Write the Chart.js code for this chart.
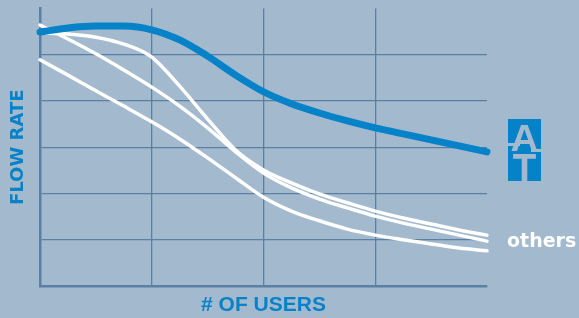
<!DOCTYPE html>
<html>
<head>
<meta charset="utf-8">
<script src="https://cdn.jsdelivr.net/npm/chart.js@4/dist/chart.umd.min.js"></script>
<style>
  html, body { margin: 0; padding: 0; background: #a3b9ce; }
  #wrap { width: 579px; height: 318px; position: relative; }
</style>
</head>
<body>
<div id="wrap"><canvas id="c" width="579" height="318"></canvas></div>
<script>
// ---- data ----
const userSteps = [0, 0.25, 0.5, 0.75, 1, 1.25, 1.5, 1.75, 2, 2.25, 2.5, 2.75, 3, 3.25, 3.5, 3.75, 4];
const atFlow     = [5.49, 5.58, 5.62, 5.62, 5.54, 5.32, 4.97, 4.56, 4.20, 3.94, 3.74, 3.57, 3.42, 3.29, 3.16, 3.03, 2.90];
const otherFlowA = [5.64, 5.34, 5.02, 4.67, 4.30, 3.89, 3.42, 2.90, 2.44, 2.12, 1.88, 1.69, 1.51, 1.36, 1.23, 1.10, 0.97];
const otherFlowB = [5.47, 5.45, 5.38, 5.23, 4.95, 4.32, 3.61, 2.94, 2.51, 2.23, 1.99, 1.80, 1.62, 1.47, 1.34, 1.21, 1.10];
const otherFlowC = [4.89, 4.56, 4.22, 3.89, 3.55, 3.18, 2.77, 2.34, 1.92, 1.62, 1.41, 1.23, 1.10, 1.00, 0.91, 0.82, 0.76];
const xTitle = '# OF USERS';
const yTitle = 'FLOW RATE';
const atLabel = ['A', 'T'];
const othersLabel = 'others';

const BG = '#a3b9ce';
const GRID = '#5a80a4';
const BLUE = '#0582c8';

const pts = (ys) => userSteps.map((x, i) => ({ x: x, y: ys[i] }));

const labelsPlugin = {
  id: 'sideLabels',
  afterDraw(chart) {
    const ctx = chart.ctx;
    ctx.save();
    // AT logo
    ctx.fillStyle = BLUE;
    ctx.fillRect(508, 119, 33, 62);
    ctx.fillStyle = BG;
    ctx.textAlign = 'center';
    ctx.textBaseline = 'alphabetic';
    ctx.save();
    ctx.translate(524.5, 151);
    ctx.scale(1.1, 1.05);
    ctx.font = 'bold 35px "Liberation Sans", Arial, sans-serif';
    ctx.fillText(atLabel[0], 0, 0);
    ctx.restore();
    ctx.save();
    ctx.translate(524.5, 183);
    ctx.scale(1.1, 1.2);
    ctx.font = 'bold 35px "Liberation Sans", Arial, sans-serif';
    ctx.fillText(atLabel[1], 0, 0);
    ctx.restore();
    ctx.fillRect(506, 143, 14, 3);
    ctx.fillRect(531, 149, 12, 3);
    // others
    ctx.fillStyle = '#ffffff';
    ctx.textAlign = 'left';
    ctx.textBaseline = 'middle';
    ctx.font = 'bold 19px "DejaVu Sans", sans-serif';
    ctx.fillText(othersLabel, 507, 242);
    ctx.restore();
  }
};

const lineDs = (data, color, width) => ({
  data: pts(data),
  borderColor: color,
  borderWidth: width,
  pointRadius: 0,
  pointHoverRadius: 0,
  fill: false,
  cubicInterpolationMode: 'monotone',
  borderCapStyle: 'round',
  borderJoinStyle: 'round',
  clip: false
});

new Chart(document.getElementById('c'), {
  type: 'line',
  data: {
    datasets: [
      lineDs(atFlow, BLUE, 7),
      lineDs(otherFlowA, '#ffffff', 3.5),
      lineDs(otherFlowB, '#ffffff', 3.5),
      lineDs(otherFlowC, '#ffffff', 3.5)
    ]
  },
  options: {
    responsive: false,
    animation: false,
    events: [],
    layout: { padding: { left: 0, right: 92, top: 8.5, bottom: 0 } },
    plugins: { legend: { display: false }, tooltip: { enabled: false } },
    scales: {
      x: {
        type: 'linear',
        min: 0, max: 4,
        ticks: { display: false, stepSize: 1 },
        grid: {
          drawTicks: false,
          lineWidth: 1.3,
          color: (c) => (c.tick && (c.tick.value === 4 || c.tick.value === 0)) ? 'rgba(0,0,0,0)' : GRID
        },
        border: { display: true, color: GRID, width: 2.5 },
        title: {
          display: true,
          text: xTitle,
          color: BLUE,
          font: { family: '"Liberation Sans", Arial, sans-serif', size: 21, weight: 'bold' },
          padding: { top: 6.8, bottom: 0 }
        }
      },
      y: {
        type: 'linear',
        min: 0, max: 6,
        ticks: { display: false, stepSize: 1 },
        grid: {
          drawTicks: false,
          lineWidth: 1.3,
          color: (c) => (c.tick && (c.tick.value === 6 || c.tick.value === 0)) ? 'rgba(0,0,0,0)' : GRID
        },
        border: { display: true, color: GRID, width: 2.5 },
        title: {
          display: true,
          text: yTitle,
          color: BLUE,
          font: { family: '"DejaVu Sans", sans-serif', size: 18, weight: 'bold' },
          padding: { top: 7.2, bottom: 11.2 }
        }
      }
    }
  },
  plugins: [labelsPlugin]
});
</script>
</body>
</html>
